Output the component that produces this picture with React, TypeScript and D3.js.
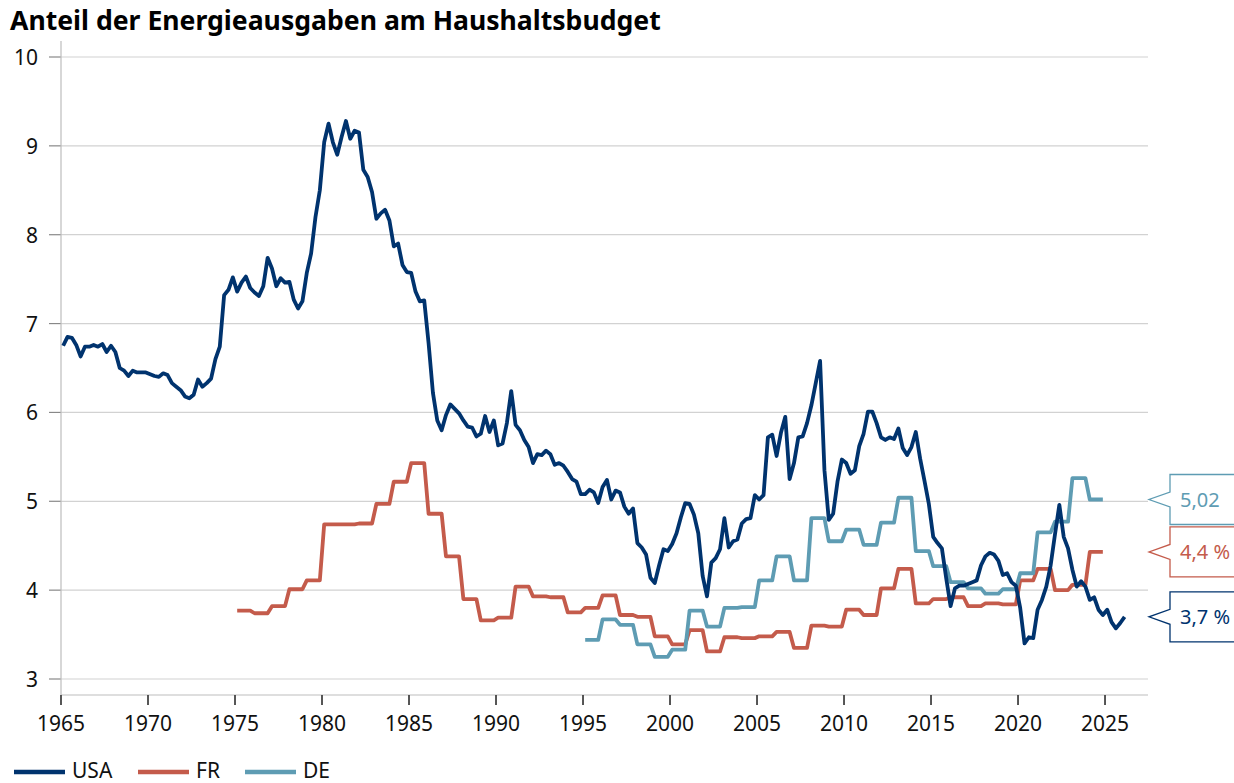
import React from "react";
import * as d3 from "d3";

const TITLE = "Anteil der Energieausgaben am Haushaltsbudget";

// USA: quarterly values, 1965 Q1 .. 2026 Q1
const usaStart = 1965;
const usaValues: number[] = [
  6.75, 6.85, 6.84, 6.76, // 1965
  6.63, 6.74, 6.74, 6.76, // 1966
  6.74, 6.77, 6.68, 6.75, // 1967
  6.68, 6.5, 6.47, 6.41, // 1968
  6.47, 6.45, 6.45, 6.45, // 1969
  6.43, 6.41, 6.4, 6.44, // 1970
  6.42, 6.33, 6.29, 6.25, // 1971
  6.18, 6.16, 6.2, 6.37, // 1972
  6.29, 6.33, 6.38, 6.6, // 1973
  6.74, 7.32, 7.38, 7.52, // 1974
  7.36, 7.46, 7.53, 7.4, // 1975
  7.35, 7.31, 7.42, 7.74, // 1976
  7.62, 7.42, 7.51, 7.46, // 1977
  7.47, 7.27, 7.17, 7.25, // 1978
  7.57, 7.79, 8.2, 8.5, // 1979
  9.04, 9.25, 9.04, 8.9, // 1980
  9.1, 9.28, 9.08, 9.17, // 1981
  9.15, 8.73, 8.65, 8.48, // 1982
  8.18, 8.24, 8.28, 8.16, // 1983
  7.87, 7.9, 7.66, 7.58, // 1984
  7.57, 7.36, 7.25, 7.26, // 1985
  6.78, 6.22, 5.91, 5.8, // 1986
  5.97, 6.09, 6.04, 5.99, // 1987
  5.91, 5.84, 5.83, 5.73, // 1988
  5.76, 5.96, 5.78, 5.91, // 1989
  5.63, 5.65, 5.88, 6.24, // 1990
  5.86, 5.8, 5.69, 5.61, // 1991
  5.43, 5.53, 5.52, 5.57, // 1992
  5.53, 5.41, 5.43, 5.4, // 1993
  5.33, 5.25, 5.22, 5.08, // 1994
  5.08, 5.13, 5.1, 4.98, // 1995
  5.16, 5.24, 5.02, 5.12, // 1996
  5.1, 4.94, 4.86, 4.92, // 1997
  4.53, 4.48, 4.4, 4.14, // 1998
  4.08, 4.28, 4.46, 4.44, // 1999
  4.52, 4.64, 4.82, 4.98, // 2000
  4.97, 4.85, 4.64, 4.16, // 2001
  3.93, 4.31, 4.36, 4.46, // 2002
  4.81, 4.48, 4.55, 4.57, // 2003
  4.75, 4.8, 4.81, 5.07, // 2004
  5.02, 5.07, 5.72, 5.75, // 2005
  5.51, 5.77, 5.95, 5.25, // 2006
  5.43, 5.72, 5.73, 5.88, // 2007
  6.08, 6.33, 6.58, 5.35, // 2008
  4.79, 4.86, 5.22, 5.47, // 2009
  5.43, 5.31, 5.35, 5.62, // 2010
  5.76, 6.01, 6.01, 5.88, // 2011
  5.72, 5.69, 5.72, 5.7, // 2012
  5.82, 5.6, 5.52, 5.61, // 2013
  5.78, 5.48, 5.23, 4.97, // 2014
  4.6, 4.53, 4.47, 4.13, // 2015
  3.82, 4.02, 4.05, 4.05, // 2016
  4.07, 4.09, 4.11, 4.28, // 2017
  4.38, 4.42, 4.4, 4.33, // 2018
  4.17, 4.19, 4.09, 4.05, // 2019
  3.8, 3.4, 3.47, 3.46, // 2020
  3.78, 3.89, 4.04, 4.28, // 2021
  4.63, 4.96, 4.6, 4.47, // 2022
  4.23, 4.04, 4.1, 4.04, // 2023
  3.89, 3.92, 3.78, 3.72, // 2024
  3.78, 3.64, 3.57, 3.63, // 2025
  3.7, // 2026
];

// France: annual values 1975..2024
const frYears = d3.range(1975, 2025);
const frValues: number[] = [
  3.77, 3.74, 3.82, 4.01, 4.11, 4.74, 4.74, 4.75, 4.97, 5.22,
  5.43, 4.86, 4.38, 3.9, 3.66, 3.69, 4.04, 3.93, 3.92, 3.75,
  3.8, 3.94, 3.72, 3.7, 3.48, 3.39, 3.55, 3.31, 3.47, 3.46,
  3.48, 3.53, 3.35, 3.6, 3.59, 3.78, 3.72, 4.02, 4.24, 3.85,
  3.9, 3.92, 3.82, 3.85, 3.84, 4.11, 4.24, 4.0, 4.06, 4.43,
];

// Germany: annual values 1995..2024
const deYears = d3.range(1995, 2025);
const deValues: number[] = [
  3.44, 3.67, 3.61, 3.39, 3.25, 3.33, 3.77, 3.59, 3.8, 3.81,
  4.11, 4.38, 4.11, 4.81, 4.55, 4.68, 4.51, 4.76, 5.04, 4.44,
  4.27, 4.09, 4.02, 3.96, 4.01, 4.19, 4.65, 4.77, 5.26, 5.02,
];

const xTicks = d3.range(1965, 2030, 5);
const yTicks = d3.range(3, 11, 1);

const seriesNames = ["USA", "FR", "DE"];
const endLabels = ["3,7 %", "4,4 %", "5,02"];
const colors: Record<string, string> = {
  USA: "#00336e",
  FR: "#c45b4b",
  DE: "#5e9cb3",
};

type Pt = { t: number; v: number };

function annualToQuarterly(years: number[], vals: number[]): Pt[] {
  const out: Pt[] = [];
  years.forEach((y, i) => {
    for (let q = 0; q < 4; q++) out.push({ t: y + q * 0.25 + 0.125, v: vals[i] });
  });
  return out;
}

const FONT = "'Noto Sans', 'Open Sans', sans-serif";

export default function App() {
  const W = 1234;
  const H = 783;
  const x = d3.scaleLinear().domain([1965, 2027.47]).range([61, 1148]);
  const y = d3.scaleLinear().domain([3, 10]).range([679, 57]);

  const usa: Pt[] = usaValues.map((v, i) => ({ t: usaStart + i * 0.25 + 0.125, v }));
  const fr = annualToQuarterly(frYears, frValues);
  const de = annualToQuarterly(deYears, deValues);
  const data: Record<string, Pt[]> = { USA: usa, FR: fr, DE: de };

  const line = d3
    .line<Pt>()
    .x((d) => x(d.t))
    .y((d) => y(d.v));

  const axisY0 = 695;
  const plotLeft = x(1965);
  const plotRight = 1148;

  const drawOrder = ["FR", "DE", "USA"];
  const legendX = [14, 138, 245];

  return (
    <div style={{ position: "absolute", left: 0, top: 0 }}>
      <svg width={W} height={H} style={{ display: "block" }} fontFamily={FONT}>
        <rect width={W} height={H} fill="#fff" />
        <text x={10} y={30} fontSize={26.6} fontWeight={700} fill="#000">
          {TITLE}
        </text>

        {/* gridlines */}
        {yTicks.map((t) => (
          <g key={t}>
            <line x1={plotLeft} x2={plotRight} y1={y(t)} y2={y(t)} stroke="#d2d2d2" strokeWidth={1.2} />
            <line x1={49} x2={plotLeft} y1={y(t)} y2={y(t)} stroke="#888" strokeWidth={1.2} />
            <text x={38} y={y(t)} fontSize={21} textAnchor="end" dominantBaseline="central" fill="#111">
              {t}
            </text>
          </g>
        ))}

        {/* axes */}
        <line x1={plotLeft} x2={plotLeft} y1={41} y2={axisY0} stroke="#bdbdbd" strokeWidth={1.2} />
        <line x1={plotLeft} x2={plotRight} y1={axisY0} y2={axisY0} stroke="#bdbdbd" strokeWidth={1.2} />
        {xTicks.map((t) => (
          <g key={t}>
            <line x1={x(t)} x2={x(t)} y1={axisY0} y2={axisY0 + 10} stroke="#444" strokeWidth={1.8} />
            <text x={x(t)} y={axisY0 + 28} fontSize={21} textAnchor="middle" dominantBaseline="central" fill="#111">
              {t}
            </text>
          </g>
        ))}

        {/* lines */}
        {drawOrder.map((k) => (
          <path
            key={k}
            d={line(data[k]) || ""}
            fill="none"
            stroke={colors[k]}
            strokeWidth={3.8}
            strokeLinejoin="round"
            strokeLinecap="butt"
          />
        ))}

        {/* end labels */}
        {seriesNames.map((k, i) => {
          const pts = data[k];
          const last = pts[pts.length - 1].v;
          const cy = y(last);
          const bx = 1170;
          const tip = 1149;
          const top = cy - 25;
          const bot = cy + 25;
          const d = `M ${W + 10} ${top} L ${bx} ${top} L ${bx} ${cy - 7.5} L ${tip} ${cy} L ${bx} ${cy + 7.5} L ${bx} ${bot} L ${W + 10} ${bot}`;
          return (
            <g key={k}>
              <path d={d} fill="#fff" stroke={colors[k]} strokeWidth={1.3} />
              <text x={1180} y={cy} fontSize={20} dominantBaseline="central" fill={colors[k]}>
                {endLabels[i]}
              </text>
            </g>
          );
        })}

        {/* legend */}
        {seriesNames.map((k, i) => {
          const lx = legendX[i];
          return (
            <g key={k}>
              <line x1={lx} x2={lx + 51} y1={772} y2={772} stroke={colors[k]} strokeWidth={4.5} />
              <text x={lx + 58} y={770} fontSize={21} dominantBaseline="central" fill="#111">
                {k}
              </text>
            </g>
          );
        })}
      </svg>
    </div>
  );
}
